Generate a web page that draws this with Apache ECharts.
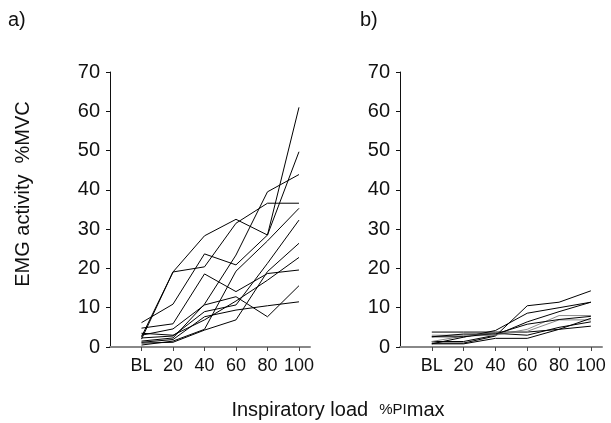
<!DOCTYPE html>
<html>
<head>
<meta charset="utf-8">
<script src="https://cdn.jsdelivr.net/npm/echarts@6/dist/echarts.min.js"></script>
<style>html,body{margin:0;padding:0;background:#fff}#c{width:611px;height:423px}</style>
</head>
<body>
<div id="c"></div>
<script>
var categories = ['BL', '20', '40', '60', '80', '100'];
var yTicks = [0, 10, 20, 30, 40, 50, 60, 70];

// Panel a) subjects
var a1 = [2.6, 19.1, 28.3, 32.5, 28.5, 61.0];
var a2 = [6.2, 10.9, 23.7, 20.9, 28.5, 49.7];
var a3 = [2.0, 19.1, 20.4, 31.5, 36.6, 36.6];
var a4 = [1.5, 2.3, 10.9, 23.4, 39.5, 43.9];
var a5 = [4.8, 5.9, 18.6, 14.1, 18.7, 19.6];
var a6 = [3.0, 4.6, 10.7, 12.8, 7.7, 15.6];
var a7 = [1.2, 1.9, 7.7, 9.4, 10.5, 11.5];
var a8 = [0.5, 1.5, 4.5, 19.3, 27.0, 35.3];
var a9 = [2.3, 2.8, 9.0, 10.7, 21.3, 32.3];
var a10 = [1.0, 1.2, 4.3, 6.9, 19.2, 26.4];
var a11 = [3.5, 3.0, 6.9, 11.7, 17.0, 22.8];

// Panel b) subjects
var b1 = [1.0, 1.0, 2.8, 10.5, 11.4, 14.3];
var b2 = [0.8, 2.5, 4.2, 8.6, 10.0, 11.4];
var b3 = [1.4, 1.4, 3.0, 6.4, 9.0, 11.4];
var b4 = [1.4, 2.8, 3.0, 4.5, 8.0, 8.0];
var b5 = [3.8, 3.8, 3.8, 3.8, 4.5, 5.3];
var b6 = [2.6, 2.6, 3.5, 3.0, 5.0, 6.4];
var b7 = [3.0, 3.0, 3.5, 4.0, 6.9, 6.9];
var b8 = [0.8, 0.8, 2.2, 2.2, 4.5, 7.3];
var b9 = [2.6, 3.3, 3.3, 5.8, 7.0, 7.8];

var panelA = [a1, a2, a3, a4, a5, a6, a7, a8, a9, a10, a11];
var panelB = [b1, b2, b3, b4, b5, b6, b7, b8, b9];
var grayB = [3, 6]; // indices of gray lines in panel b

var FONT = '"Liberation Sans", Arial, Helvetica, sans-serif';
var positions = categories.map(function (c, i) { return i + 1; });

function toPoints(arr) {
  return arr.map(function (v, i) { return [positions[i], v]; });
}

function xAxis(gi) {
  return {
    type: 'value', gridIndex: gi, min: 0, max: 6.35, interval: 1,
    axisLine: { show: true, lineStyle: { color: '#888', width: 2 } },
    axisTick: { show: true, length: 4, customValues: positions, lineStyle: { color: '#444', width: 1 } },
    axisLabel: {
      customValues: positions, margin: 10, fontSize: 18, color: '#111', fontFamily: FONT,
      formatter: function (v) { var i = Math.round(v) - 1; return categories[i] || ''; }
    },
    splitLine: { show: false }
  };
}
function yAxis(gi) {
  return {
    type: 'value', gridIndex: gi, min: yTicks[0], max: yTicks[yTicks.length - 1], interval: 10,
    axisLine: { show: true, lineStyle: { color: '#111', width: 1 } },
    axisTick: { show: true, length: 4, lineStyle: { color: '#111' } },
    axisLabel: { margin: 10, fontSize: 20, color: '#111', fontFamily: FONT },
    splitLine: { show: false }
  };
}

var series = [];
panelA.forEach(function (arr) {
  series.push({ type: 'line', xAxisIndex: 0, yAxisIndex: 0, data: toPoints(arr), showSymbol: false, symbol: 'none',
    lineStyle: { color: '#000', width: 1 }, silent: true });
});
panelB.forEach(function (arr, k) {
  series.push({ type: 'line', xAxisIndex: 1, yAxisIndex: 1, data: toPoints(arr), showSymbol: false, symbol: 'none',
    lineStyle: { color: grayB.indexOf(k) >= 0 ? '#888' : '#000', width: 1 }, silent: true });
});

var chart = echarts.init(document.getElementById('c'), null, { renderer: 'canvas' });
chart.setOption({
  animation: false,
  backgroundColor: '#fff',
  grid: [
    { left: 110, top: 72, width: 200, bottom: 76 },
    { left: 400, top: 72, width: 202, bottom: 76 }
  ],
  xAxis: [xAxis(0), xAxis(1)],
  yAxis: [yAxis(0), yAxis(1)],
  series: series,
  graphic: [
    { type: 'text', left: 8, top: 10, style: { text: 'a)', fontSize: 20, fill: '#111', fontFamily: FONT } },
    { type: 'text', left: 360, top: 10, style: { text: 'b)', fontSize: 20, fill: '#111', fontFamily: FONT } },
    { type: 'text', x: 23, y: 194, rotation: Math.PI / 2,
      style: { text: 'EMG activity  %MVC', fontSize: 20, fill: '#111', fontFamily: FONT, align: 'center', verticalAlign: 'middle' } },
    { type: 'text', x: 338, y: 410,
      style: { rich: { n: { fontSize: 20, fontFamily: FONT, fill: '#111' }, s: { fontSize: 15, fontFamily: FONT, fill: '#111' } },
        text: '{n|Inspiratory load  }{s|%PI}{n|max}', align: 'center', verticalAlign: 'middle' } }
  ]
});
</script>
</body>
</html>
